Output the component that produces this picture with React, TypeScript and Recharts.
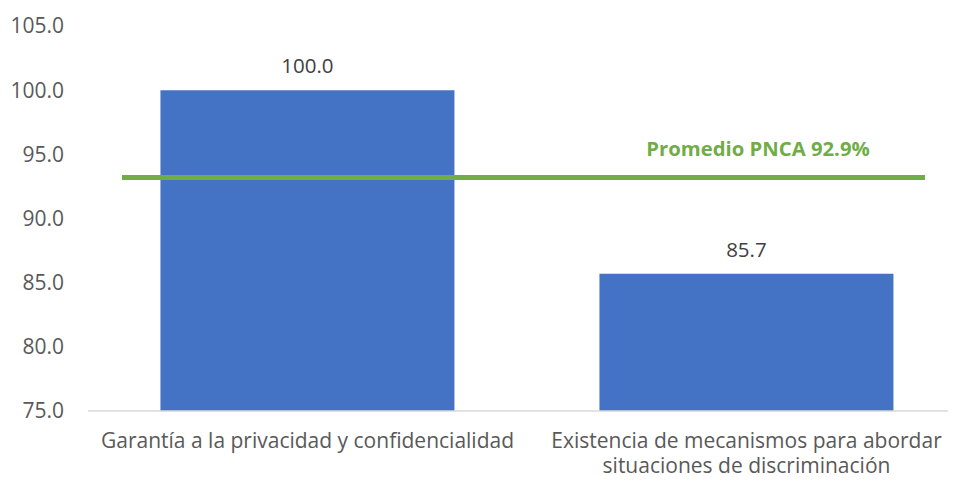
import React from "react";
import { BarChart, Bar, XAxis, YAxis, ReferenceLine, LabelList } from "recharts";

const categories = [
  "Garantía a la privacidad y confidencialidad",
  "Existencia de mecanismos para abordar situaciones de discriminación",
];
const tickLines = [
  ["Garantía a la privacidad y confidencialidad"],
  ["Existencia de mecanismos para abordar", "situaciones de discriminación"],
];
const values = [100.0, 85.7];
const yTicks = [75, 80, 85, 90, 95, 100, 105];
const promedioLabel = "Promedio PNCA 92.9%";
const promedioLineValue = 93.2;

const data = categories.map((c, i) => ({ name: c, value: values[i] }));

const FONT = "'Open Sans', sans-serif";

const XTick = (props: any) => {
  const { x, y, payload } = props;
  const idx = categories.indexOf(payload.value);
  const lines = idx >= 0 ? tickLines[idx] : [String(payload.value)];
  return (
    <text
      x={x}
      y={y + 14}
      textAnchor="middle"
      fill="#595959"
      fontSize={21}
      fontFamily={FONT}
    >
      {lines.map((l, i) => (
        <tspan key={i} x={x} dy={i === 0 ? "0.71em" : 25}>
          {l}
        </tspan>
      ))}
    </text>
  );
};

const AvgShape = (props: any) => {
  const { x1, y1, x2 } = props;
  return (
    <g>
      <line x1={x1 + 34} y1={y1} x2={x2 - 41} y2={y1} stroke="#70AD47" strokeWidth={5} />
      <text
        x={x1 + 670}
        y={y1 - 29}
        textAnchor="middle"
        dominantBaseline="central"
        fill="#70AD47"
        fontWeight="bold"
        fontSize={20.3}
        fontFamily={FONT}
      >
        {promedioLabel}
      </text>
    </g>
  );
};

export default function App() {
  return (
    <div style={{ margin: -8, width: 956, height: 481, overflow: "hidden" }}>
      <BarChart
        width={980}
        height={481}
        data={data}
        margin={{ top: 26, right: 14, bottom: 0, left: 0 }}
        barCategoryGap="16.5%"
      >
        <XAxis
          dataKey="name"
          interval={0}
          axisLine={{ stroke: "#D9D9D9", strokeWidth: 1.5 }}
          tickLine={false}
          height={70}
          tick={<XTick />}
        />
        <YAxis
          domain={[75, 105]}
          ticks={yTicks}
          width={88}
          axisLine={false}
          tickLine={false}
          tickMargin={18}
          tickFormatter={(v: number) => v.toFixed(1)}
          tick={{ fill: "#595959", fontSize: 21, fontFamily: FONT }}
        />
        <Bar dataKey="value" fill="#4472C4" isAnimationActive={false}>
          <LabelList
            dataKey="value"
            position="top"
            offset={17}
            formatter={(v: any) => Number(v).toFixed(1)}
            style={{ fill: "#404040", fontSize: 20.5, fontFamily: FONT }}
          />
        </Bar>
        <ReferenceLine y={promedioLineValue} shape={<AvgShape />} />
      </BarChart>
    </div>
  );
}
